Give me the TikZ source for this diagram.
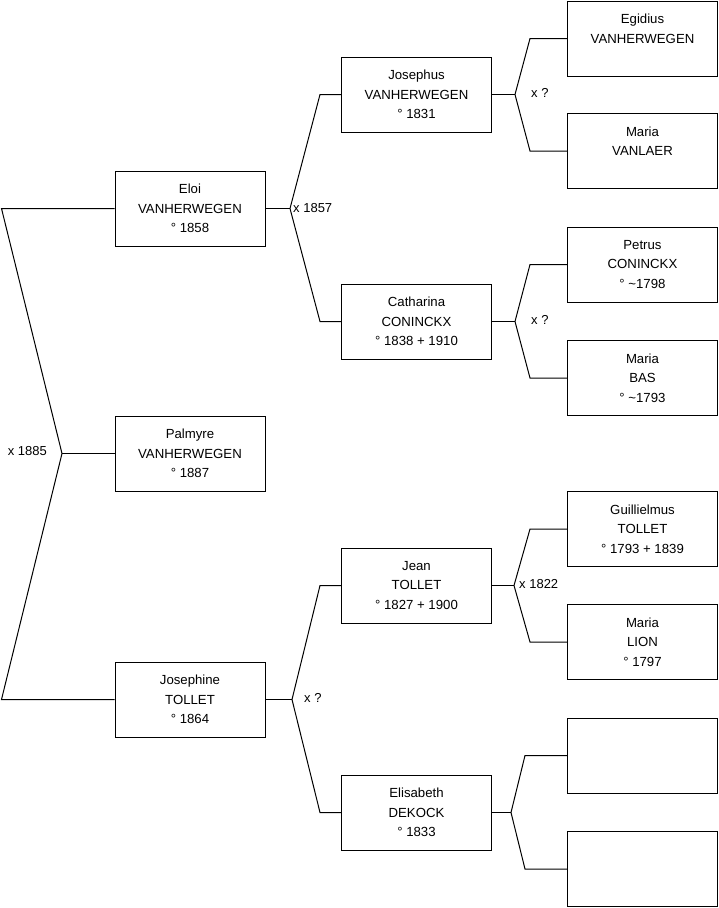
\documentclass[tikz,border=0pt]{standalone}
\usepackage{fontspec}
\setmainfont{Liberation Sans}
\usetikzlibrary{positioning}

\tikzset{
  person/.style={draw, line width=1pt, minimum width=150pt, minimum height=75pt,
    inner sep=0pt, align=center, font=\fontsize{13.2}{19.5}\selectfont},
  union/.style={font=\fontsize{13}{15}\selectfont, inner sep=0pt},
  link/.style={line width=1pt}
}

\begin{document}
\begin{tikzpicture}[x=1pt,y=-1pt]
\useasboundingbox (0,0) rectangle (719,908);

% generation 1
\node[person] (eloi) at (190,208.5) {Eloi\\VANHERWEGEN\\° 1858};
\node[person] (palmyre) at (190,453.5) {Palmyre\\VANHERWEGEN\\° 1887};
\node[person] (josephine) at (190,699.5) {Josephine\\TOLLET\\° 1864};

% generation 2
\node[person] (josephus) at (416.5,94.5) {Josephus\\VANHERWEGEN\\° 1831};
\node[person] (catharina) at (416.5,321.5) {Catharina\\CONINCKX\\° 1838 + 1910};
\node[person] (jean) at (416.5,585.5) {Jean\\TOLLET\\° 1827 + 1900};
\node[person] (elisabeth) at (416.5,812.5) {Elisabeth\\DEKOCK\\° 1833};

% generation 3
\node[person] (egidius) at (642.5,38.5) {Egidius\\VANHERWEGEN\\~};
\node[person] (mvanlaer) at (642.5,151) {Maria\\VANLAER\\~};
\node[person] (petrus) at (642.5,264.5) {Petrus\\CONINCKX\\° \textasciitilde1798};
\node[person] (mbas) at (642.5,378) {Maria\\BAS\\° \textasciitilde1793};
\node[person] (guillielmus) at (642.5,529) {Guillielmus\\TOLLET\\° 1793 + 1839};
\node[person] (mlion) at (642.5,642) {Maria\\LION\\° 1797};
\node[person] (unknown1) at (642.5,755.5) {};
\node[person] (unknown2) at (642.5,869) {};

% junctions
\coordinate (m0) at (62,453.5);
\coordinate (m1) at (290,208.5);
\coordinate (m2) at (292,699.5);
\coordinate (m3) at (515,94.5);
\coordinate (m4) at (515,321.5);
\coordinate (m5) at (514,585.5);
\coordinate (m6) at (511,812.5);

% marriages
\node[union,anchor=east] (u0) at (47,451) {x 1885};
\node[union,anchor=west] (u1) at (293,208.5) {x 1857};
\node[union,anchor=west] (u2) at (304,698) {x ?};
\node[union,anchor=west] (u3) at (531,93) {x ?};
\node[union,anchor=west] (u4) at (531,320) {x ?};
\node[union,anchor=west] (u5) at (519,584) {x 1822};

% connectors
\draw[link] (palmyre.west) -- (m0);
\draw[link] (eloi.west) -- ++(-113,0) -- (m0);
\draw[link] (josephine.west) -- ++(-113,0) -- (m0);

\draw[link] (eloi.east) -- (m1);
\draw[link] (josephus.west) -- ++(-21,0) -- (m1);
\draw[link] (catharina.west) -- ++(-21,0) -- (m1);

\draw[link] (josephine.east) -- (m2);
\draw[link] (jean.west) -- ++(-21,0) -- (m2);
\draw[link] (elisabeth.west) -- ++(-21,0) -- (m2);

\draw[link] (josephus.east) -- (m3);
\draw[link] (egidius.west) -- ++(-37,0) -- (m3);
\draw[link] (mvanlaer.west) -- ++(-37,0) -- (m3);

\draw[link] (catharina.east) -- (m4);
\draw[link] (petrus.west) -- ++(-37,0) -- (m4);
\draw[link] (mbas.west) -- ++(-37,0) -- (m4);

\draw[link] (jean.east) -- (m5);
\draw[link] (guillielmus.west) -- ++(-37,0) -- (m5);
\draw[link] (mlion.west) -- ++(-37,0) -- (m5);

\draw[link] (elisabeth.east) -- (m6);
\draw[link] (unknown1.west) -- ++(-42,0) -- (m6);
\draw[link] (unknown2.west) -- ++(-42,0) -- (m6);
\end{tikzpicture}
\end{document}
